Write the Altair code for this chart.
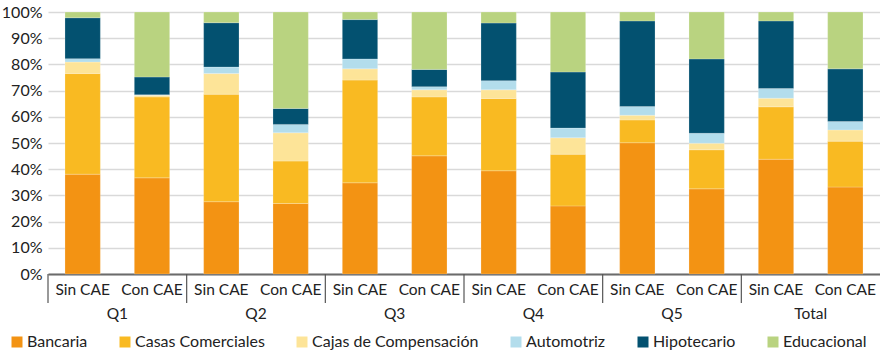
import altair as alt
import pandas as pd

groups = ["Q1", "Q2", "Q3", "Q4", "Q5", "Total"]
subs = ["Sin CAE", "Con CAE"]
series = ["Bancaria", "Casas Comerciales", "Cajas de Compensación", "Automotriz", "Hipotecario", "Educacional"]
colors = ["#F39313", "#F9BA22", "#FDE498", "#B3DDEC", "#035170", "#B9D380"]

bancaria = [38.1, 36.7, 27.6, 26.9, 34.8, 45.1, 39.4, 26.0, 50.1, 32.5, 43.8, 33.2]
casas = [38.4, 30.9, 41.0, 16.2, 39.2, 22.5, 27.6, 19.7, 8.7, 14.9, 20.0, 17.5]
cajas = [4.4, 0.6, 7.9, 10.8, 4.3, 2.7, 3.3, 6.3, 1.8, 2.5, 3.3, 4.3]
automotriz = [1.3, 0.2, 2.5, 3.2, 3.8, 1.2, 3.5, 3.7, 3.3, 3.8, 3.7, 3.2]
hipotecario = [15.6, 6.8, 16.9, 6.1, 15.0, 6.6, 22.0, 21.4, 32.7, 28.4, 25.8, 20.1]
educacional = [2.2, 24.8, 4.1, 36.8, 2.9, 21.9, 4.2, 22.9, 3.4, 17.9, 3.4, 21.7]

values = [bancaria, casas, cajas, automotriz, hipotecario, educacional]
keys = [f"{g}|{s}" for g in groups for s in subs]

rows = []
for si, (name, vals) in enumerate(zip(series, values)):
    for k, v in zip(keys, vals):
        rows.append({"key": k, "serie": name, "idx": si, "valor": v})
df = pd.DataFrame(rows)

grp_df = pd.DataFrame({"key": [f"{g}|{subs[0]}" for g in groups], "grupo": groups})

FONT = "Lato"
W, H = 832, 262

xscale = alt.Scale(domain=keys, paddingInner=0, paddingOuter=0)

bars = alt.Chart(df).mark_bar(
    width=alt.RelativeBandSize(0.51), stroke="white", strokeWidth=0.6, strokeOpacity=0.35
).encode(
    x=alt.X("key:N", scale=xscale, sort=keys,
            axis=alt.Axis(title=None, labelAngle=0, ticks=False, labelPadding=8,
                          labelExpr="split(datum.label, '|')[1]",
                          labelFontSize=15.5, labelColor="#222222", labelFont=FONT,
                          domainColor="#6b6b6b", domainWidth=2, grid=False)),
    y=alt.Y("valor:Q", stack="zero", scale=alt.Scale(domain=[0, 100], nice=False),
            axis=alt.Axis(title=None, values=list(range(0, 101, 10)),
                          labelExpr="datum.value + '%'", domain=False, ticks=False,
                          labelPadding=6, labelFontSize=16, labelColor="#222222",
                          labelFont=FONT, gridColor="#d9d9d9", gridWidth=1.5)),
    color=alt.Color("serie:N", scale=alt.Scale(domain=series, range=colors),
                    legend=alt.Legend(title=None, orient="none", direction="horizontal",
                                      legendX=-39, legendY=322, symbolType="square",
                                      symbolSize=121, symbolStrokeWidth=0,
                                      symbolOpacity=1, columnPadding=29,
                                      labelFontSize=16, labelFont=FONT,
                                      labelLimit=400,
                                      labelColor="#222222", labelOffset=2)),
    order=alt.Order("idx:Q", sort="ascending"),
)

seps = alt.Chart(grp_df).mark_rule(color="#555555", strokeWidth=1.2).encode(
    x=alt.X("key:N", scale=xscale, sort=keys, bandPosition=0),
    y=alt.value(H),
    y2=alt.value(H + 29),
)

glabels = alt.Chart(grp_df).mark_text(
    baseline="middle", align="center", fontSize=15.5, font=FONT, color="#222222"
).encode(
    x=alt.X("key:N", scale=xscale, sort=keys, bandPosition=1),
    y=alt.value(H + 40),
    text="grupo:N",
)

chart = alt.layer(bars, seps, glabels).properties(
    width=W, height=H,
    padding={"left": 48, "top": 12, "right": 0, "bottom": 78},
    autosize=alt.AutoSizeParams(type="none"),
).configure_view(stroke=None)

chart.save("out.html", embed_options={"renderer": "svg", "actions": False})
